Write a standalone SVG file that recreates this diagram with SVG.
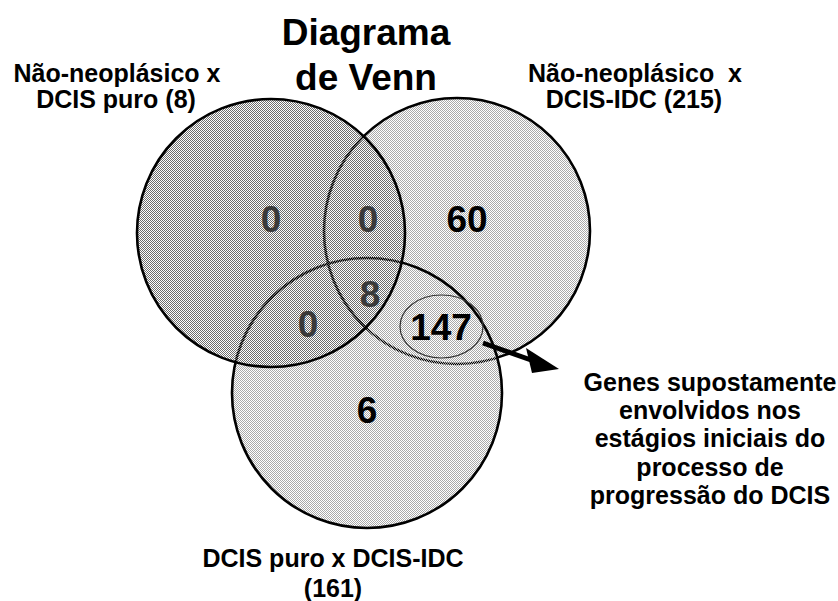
<svg xmlns="http://www.w3.org/2000/svg" width="838" height="601" viewBox="0 0 838 601">
  <style>
    text { font-family: "Liberation Sans", Arial, sans-serif; font-weight: bold; fill: #000; text-anchor: middle; }
    .title { font-size: 37px; }
    .lbl { font-size: 25px; }
    .num { font-size: 37px; }
    .hid { fill: #3a3a3a; }
    .circ { stroke: #000; stroke-width: 2.6; }
  </style>
  <defs>
    <pattern id="lightDots" patternUnits="userSpaceOnUse" x="0" y="0" width="2" height="2">
      <rect x="0" y="0" width="1" height="1" fill="#a9a9a9"/>
      <rect x="1" y="1" width="1" height="1" fill="#a9a9a9"/>
    </pattern>
    <pattern id="darkDots" patternUnits="userSpaceOnUse" x="0" y="0" width="2" height="2">
      <rect x="0" y="0" width="1" height="1" fill="#6e6e6e"/>
      <rect x="1" y="1" width="1" height="1" fill="#6e6e6e"/>
    </pattern>
  </defs>
  <rect x="0" y="0" width="838" height="601" fill="#fff"/>

  <g id="set-nao-neo-dcis-idc">
    <circle class="circ" cx="457" cy="231" r="133" fill="url(#lightDots)"/>
  </g>
  <g id="set-dcis-puro-dcis-idc">
    <circle class="circ" cx="367" cy="393" r="135" fill="url(#lightDots)"/>
  </g>
  <g id="set-nao-neo-dcis-puro">
    <circle class="circ" cx="271" cy="233" r="134" fill="url(#darkDots)"/>
  </g>
  <g id="counts-inside-left">
    <text class="num hid" x="271" y="232">0</text>
    <text class="num hid" x="368" y="232">0</text>
    <text class="num hid" x="370" y="307">8</text>
    <text class="num hid" x="308" y="337">0</text>
  </g>
  <g id="counts-other">
    <text class="num" x="467" y="232">60</text>
    <text class="num" x="367" y="423">6</text>
  </g>
  <g id="highlight-147">
    <ellipse cx="441.5" cy="326.5" rx="41.5" ry="31.5" fill="none" stroke="#333" stroke-width="1.2"/>
    <text class="num" x="441" y="340">147</text>
  </g>
  <g id="connectors">
    <path d="M483,343 L531,360" stroke="#000" stroke-width="5" fill="none"/>
    <path d="M526,348 L559,369 L532,373 Z" fill="#000"/>
  </g>
  <g id="title">
    <text class="title" x="366" y="45">Diagrama</text>
    <text class="title" x="366" y="90">de Venn</text>
  </g>
  <g id="label-left">
    <text class="lbl" x="117" y="82">Não-neoplásico x</text>
    <text class="lbl" x="116" y="108">DCIS puro (8)</text>
  </g>
  <g id="label-right">
    <text class="lbl" x="635" y="82" xml:space="preserve">Não-neoplásico  x</text>
    <text class="lbl" x="634" y="108">DCIS-IDC (215)</text>
  </g>
  <g id="label-bottom">
    <text class="lbl" x="333" y="567">DCIS puro x DCIS-IDC</text>
    <text class="lbl" x="333" y="597">(161)</text>
  </g>
  <g id="annotation">
    <text class="lbl" x="710" y="391">Genes supostamente</text>
    <text class="lbl" x="710" y="419">envolvidos nos</text>
    <text class="lbl" x="710" y="447">estágios iniciais do</text>
    <text class="lbl" x="710" y="476">processo de</text>
    <text class="lbl" x="710" y="504">progressão do DCIS</text>
  </g>
</svg>
